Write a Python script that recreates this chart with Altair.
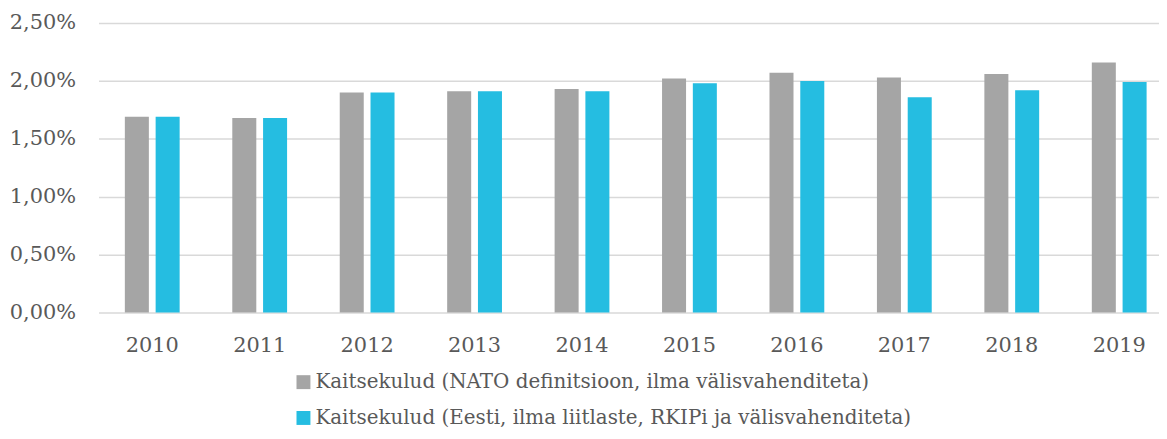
import altair as alt
import pandas as pd

years = ["2010", "2011", "2012", "2013", "2014", "2015", "2016", "2017", "2018", "2019"]
nato = [1.69, 1.68, 1.90, 1.91, 1.93, 2.02, 2.07, 2.03, 2.06, 2.16]
eesti = [1.69, 1.68, 1.90, 1.91, 1.91, 1.98, 2.00, 1.86, 1.92, 1.99]
series = [
    "Kaitsekulud (NATO definitsioon, ilma välisvahenditeta)",
    "Kaitsekulud (Eesti, ilma liitlaste, RKIPi ja välisvahenditeta)",
]
colors = ["#A5A5A5", "#25BDE1"]
y_ticks = [0, 0.5, 1.0, 1.5, 2.0, 2.5]

rows = []
for i, yr in enumerate(years):
    rows.append({"year": yr, "series": series[0], "value": nato[i]})
    rows.append({"year": yr, "series": series[1], "value": eesti[i]})
df = pd.DataFrame(rows)

FONT = "DejaVu Serif"
TXT = "#595959"

chart = (
    alt.Chart(df)
    .mark_bar()
    .encode(
        x=alt.X(
            "year:N",
            sort=years,
            title=None,
            scale=alt.Scale(range=[0, 1080], paddingInner=0.49, paddingOuter=0.245),
            axis=alt.Axis(
                labelAngle=0,
                domain=False,
                ticks=False,
                labelFontSize=21,
                labelFont=FONT,
                labelColor=TXT,
                labelPadding=22,
                grid=False,
            ),
        ),
        xOffset=alt.XOffset(
            "series:N",
            sort=series,
            scale=alt.Scale(paddingInner=0.22, paddingOuter=0),
        ),
        y=alt.Y(
            "value:Q",
            title=None,
            scale=alt.Scale(domain=[0, 2.5], nice=False),
            axis=alt.Axis(
                values=y_ticks,
                labelExpr="replace(format(datum.value, '.2f'), '.', ',') + '%'",
                domain=False,
                ticks=False,
                labelFontSize=21,
                labelFont=FONT,
                labelColor=TXT,
                labelPadding=23,
                gridColor="#D9D9D9",
                gridWidth=1.5,
            ),
        ),
        color=alt.Color(
            "series:N",
            sort=series,
            scale=alt.Scale(domain=series, range=colors),
            legend=alt.Legend(
                title=None,
                orient="none",
                legendX=196,
                legendY=351,
                direction="vertical",
                symbolType="square",
                symbolSize=196,
                symbolStrokeWidth=0,
                labelFont=FONT,
                labelFontSize=20,
                labelColor=TXT,
                labelOffset=2,
                rowPadding=16,
                labelLimit=0,
            ),
        ),
    )
    .properties(
        width=1066,
        height=291,
        autosize=alt.AutoSizeParams(type="none"),
        padding={"left": 91, "top": 14, "right": 0, "bottom": 118},
    )
    .configure_view(stroke=None)
)

chart.save("out.html", embed_options={"renderer": "svg", "actions": False})
